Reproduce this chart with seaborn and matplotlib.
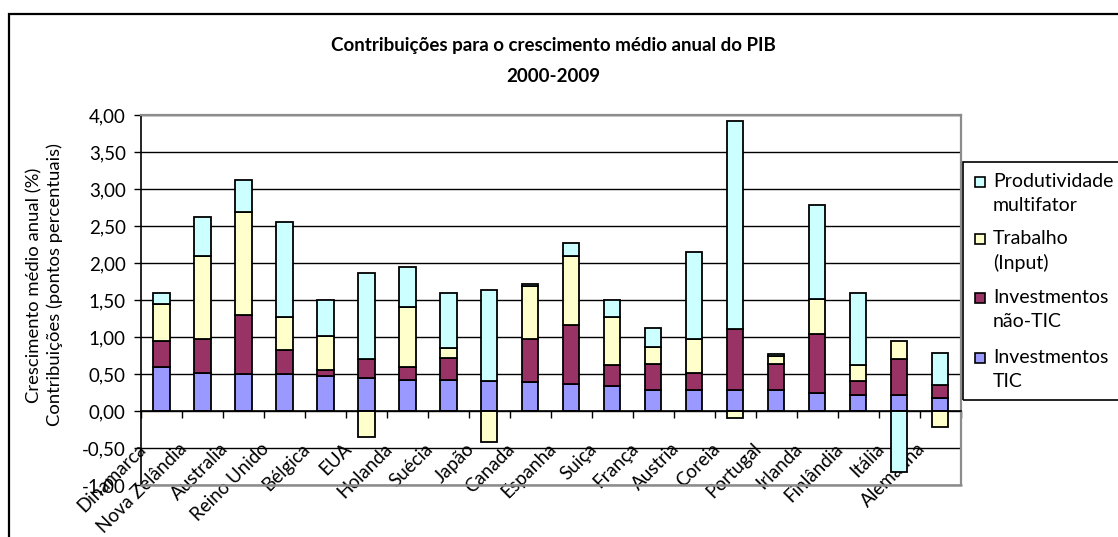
import numpy as np
import matplotlib
matplotlib.use("Agg")
import matplotlib.pyplot as plt
import seaborn as sns
from matplotlib.patches import Rectangle
from matplotlib.transforms import ScaledTranslation
from matplotlib.ticker import FuncFormatter, FixedLocator

# ---------------- data ----------------
countries = ["Dinamarca", "Nova Zelândia", "Australia", "Reino Unido", "Bélgica",
             "EUA", "Holanda", "Suécia", "Japão", "Canada", "Espanha", "Suiça",
             "França", "Austria", "Coreia", "Portugal", "Irlanda", "Finlândia",
             "Itália", "Alemanha"]
invest_tic = [0.60, 0.52, 0.50, 0.50, 0.47, 0.45, 0.42, 0.42, 0.40, 0.39,
              0.37, 0.34, 0.29, 0.29, 0.29, 0.29, 0.25, 0.22, 0.22, 0.17]
invest_nao_tic = [0.35, 0.45, 0.80, 0.32, 0.08, 0.25, 0.17, 0.30, 0.00, 0.58,
                  0.79, 0.28, 0.35, 0.23, 0.82, 0.35, 0.79, 0.19, 0.48, 0.18]
trabalho = [0.50, 1.13, 1.39, 0.45, 0.47, -0.35, 0.81, 0.13, -0.42, 0.72,
            0.94, 0.65, 0.23, 0.45, -0.09, 0.10, 0.48, 0.21, 0.25, -0.22]
produtividade = [0.15, 0.52, 0.43, 1.28, 0.48, 1.17, 0.55, 0.75, 1.23, 0.03,
                 0.17, 0.23, 0.25, 1.18, 2.81, 0.03, 1.27, 0.98, -0.82, 0.43]

series_names = ["Investmentos\nTIC", "Investmentos\nnão-TIC", "Trabalho\n(Input)",
                "Produtividade\nmultifator"]
series_values = [invest_tic, invest_nao_tic, trabalho, produtividade]
series_colors = ["#9999FF", "#993366", "#FFFFCC", "#CCFFFF"]

title_line1 = "Contribuições para o crescimento médio anual do PIB"
title_line2 = "2000-2009"
ylabel_text = "Crescimento médio anual (%)\nContribuições (pontos percentuais)"
y_ticks = [-1.0, -0.5, 0.0, 0.5, 1.0, 1.5, 2.0, 2.5, 3.0, 3.5, 4.0]

# ---------------- style ----------------
sns.set_theme(style="white")
plt.rcParams["font.family"] = ["Lato", "DejaVu Sans"]

W, H, DPI = 1118, 537, 100
fig = plt.figure(figsize=(W / DPI, H / DPI), dpi=DPI)
fig.patch.set_facecolor("white")

def px(x, y):
    return x / W, 1 - y / H

ax_left, ax_top = px(141, 115)
ax_right, ax_bottom = px(960.5, 485)
ax = fig.add_axes([ax_left, ax_bottom, ax_right - ax_left, ax_top - ax_bottom])
ax.set_axisbelow(True)

# ---------------- stacked bars (Excel style: positives up, negatives down) -----
n = len(countries)
pos_base = np.zeros(n)
neg_base = np.zeros(n)
for vals, col in zip(series_values, series_colors):
    v = np.asarray(vals, dtype=float)
    bottom = np.where(v >= 0, pos_base, neg_base)
    sns.barplot(x=countries, y=v, bottom=bottom, color=col, saturation=1,
                edgecolor="black", linewidth=1.3, width=0.4, errorbar=None,
                ax=ax, zorder=2)
    pos_base = pos_base + np.where(v >= 0, v, 0)
    neg_base = neg_base + np.where(v < 0, v, 0)

# ---------------- axes ----------------
ax.set_xlim(-0.5, n - 0.5)
ax.set_ylim(-1.0, 4.0)
ax.yaxis.set_major_locator(FixedLocator(y_ticks))
ax.yaxis.set_major_formatter(FuncFormatter(lambda v, p: f"{v:.2f}".replace(".", ",")))
ax.yaxis.grid(True, color="black", linewidth=1.0)
ax.xaxis.grid(False)
ax.set_xlabel("")
ax.set_ylabel("")

for s in ["top", "right"]:
    ax.spines[s].set_color("#8c8c8c")
    ax.spines[s].set_linewidth(1.6)
ax.spines["left"].set_color("black")
ax.spines["left"].set_linewidth(1.2)
ax.spines["bottom"].set_position(("data", 0))
ax.spines["bottom"].set_color("black")
ax.spines["bottom"].set_linewidth(1.2)
ax.spines["bottom"].set_zorder(3)
ax.axhline(-1.0, color="#8c8c8c", linewidth=1.8, zorder=3, clip_on=False)

ax.tick_params(axis="y", which="major", left=True, direction="out", length=5,
               width=1, color="black", pad=6, labelsize=13.5, labelcolor="black")

ax.set_xticks(np.arange(n + 1) - 0.5)
ax.set_xticklabels([""] * (n + 1))
ax.set_xticks(np.arange(n), countries, minor=True)
ax.tick_params(axis="x", which="major", bottom=True, direction="out", length=5,
               width=1, color="black")
ax.tick_params(axis="x", which="minor", bottom=True, length=0, pad=0,
               labelsize=13.5, labelcolor="black")
offset = ScaledTranslation(-18 / DPI, -35 / DPI, fig.dpi_scale_trans)
for lbl in ax.get_xticklabels(minor=True):
    lbl.set_rotation(45)
    lbl.set_rotation_mode("anchor")
    lbl.set_ha("right")
    lbl.set_va("center")
    lbl.set_transform(lbl.get_transform() + offset)
    lbl.set_clip_on(False)
    lbl.set_zorder(5)

# ---------------- titles / labels ----------------
fig.text(*px(553, 45), title_line1, ha="center", va="center",
         fontsize=13.5, fontweight="bold", color="black")
fig.text(*px(553, 77), title_line2, ha="center", va="center",
         fontsize=13.5, fontweight="bold", color="black")
fig.text(*px(45, 285), ylabel_text, ha="center", va="center", rotation=90,
         fontsize=13.3, color="black", multialignment="center", linespacing=1.3)

# ---------------- chart border ----------------
fig.patches.append(Rectangle(px(8.5, 600), 1.2, (600 - 14) / H,
                             transform=fig.transFigure, fill=False,
                             edgecolor="black", linewidth=1.6))

# ---------------- legend (manual, Excel style) ----------------
lx0, ly_top = px(963, 162)
_, ly_bot = px(963, 400)
fig.patches.append(Rectangle((lx0, ly_bot), 0.3, ly_top - ly_bot,
                             transform=fig.transFigure, fill=False,
                             edgecolor="black", linewidth=1.2))
legend_order = [3, 2, 1, 0]
first_line_y = [181.5, 239, 297.5, 357.5]
for k, yy in zip(legend_order, first_line_y):
    mx, my = px(975, yy + 5)
    fig.patches.append(Rectangle((mx, my), 10 / W, 10 / H, transform=fig.transFigure,
                                 facecolor=series_colors[k], edgecolor="black",
                                 linewidth=1.2))
    line1, line2 = series_names[k].split("\n")
    fig.text(*px(993, yy), line1, ha="left", va="center", fontsize=14, color="black")
    fig.text(*px(993, yy + 24), line2, ha="left", va="center", fontsize=14, color="black")

fig.savefig("out.png", dpi=DPI, facecolor="white")
